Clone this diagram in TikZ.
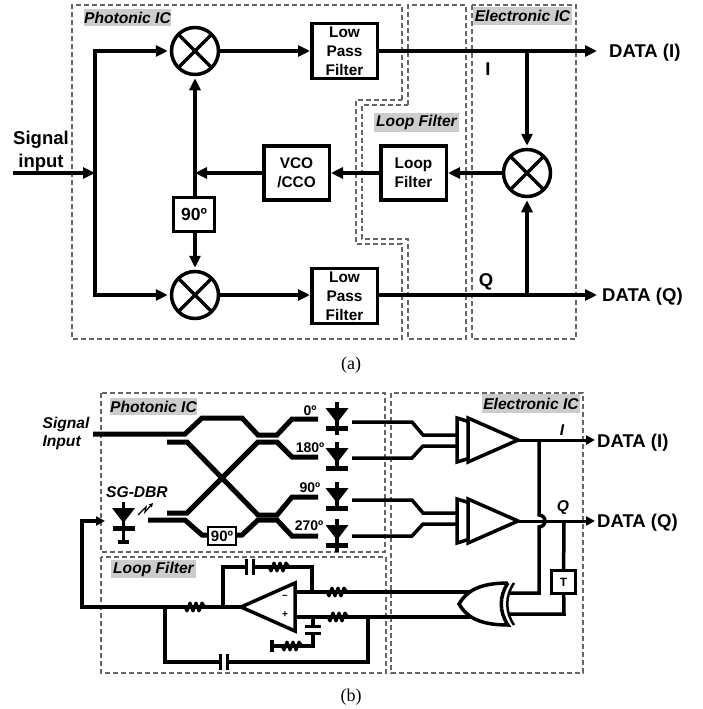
\documentclass[tikz,border=0pt]{standalone}
\usepackage{fontspec}
\setmainfont{Liberation Sans}
\newfontfamily\capfont{Liberation Serif}
\usetikzlibrary{arrows.meta}

\tikzset{
  region/.style={draw=black!60, line width=1.1pt, dash pattern=on 5pt off 3pt},
  regionlabel/.style={fill=black!20, inner sep=0pt, font=\fontsize{15.6}{18}\selectfont\bfseries\itshape},
  plainlabel/.style={inner sep=0pt, font=\fontsize{15.6}{18}\selectfont\bfseries\itshape},
  biglabel/.style={inner sep=0pt, font=\fontsize{18.5}{23}\selectfont\bfseries},
  anglelabel/.style={inner sep=0pt, font=\fontsize{14}{16}\selectfont\bfseries},
  wire/.style={line width=3.5pt},
  sigline/.style={wire, -{Triangle[length=12pt,width=11pt]}},
  smallsig/.style={wire, -{Triangle[length=9pt,width=9pt]}},
  guide/.style={line width=5pt},
  blockbox/.style={draw, line width=3.5pt, fill=white, inner sep=0pt, align=center,
    font=\fontsize{15.4}{19}\selectfont\bfseries},
  mixer/.style={draw, circle, line width=3.5pt, fill=white, minimum size=47pt, inner sep=0pt,
    path picture={
      \draw[line width=3.5pt] (path picture bounding box.north west) -- (path picture bounding box.south east);
      \draw[line width=3.5pt] (path picture bounding box.north east) -- (path picture bounding box.south west);
    }},
  resbit/.pic={
    \draw[line width=3pt, line join=round] (-10,0) -- (-8,4) -- (-5,-4) -- (-2,4) -- (1,-4) -- (4,4) -- (7,-4) -- (10,0);
  },
  capbit/.pic={
    \fill[white] (-3,-5) rectangle (3,5);
    \draw[line width=3pt] (-3.5,-8) -- (-3.5,8);
    \draw[line width=3pt] (3.5,-8) -- (3.5,8);
  },
  diodebit/.pic={
    \fill (-11.5,0) -- (11.5,0) -- (0,15) -- cycle;
    \fill (-11,18) rectangle (11,23);
  },
}

\begin{document}
\begin{tikzpicture}[x=1pt, y=-1pt]
  \useasboundingbox (0,0) rectangle (702,709);

  % regions top
  \draw[region] (402,100) -- (402,5) -- (72,5) -- (72,339) -- (402,339) -- (402,244) -- (356,244) -- (356,100) -- cycle;
  \draw[region] (408,105) -- (408,5) -- (466,5) -- (466,339) -- (408,339) -- (408,239) -- (362,239) -- (362,105) -- cycle;
  \draw[region] (472,5) rectangle (576,339);
  \node[regionlabel, minimum width=87pt, minimum height=17pt] (photoniclabel) at (127.5,17.5) {Photonic IC};
  \node[regionlabel, minimum width=85pt, minimum height=19pt] (looplabel) at (416.5,122.5) {Loop Filter};
  \node[regionlabel, minimum width=99pt, minimum height=18pt] (electroniclabel) at (522.5,16) {Electronic IC};

  % blocks top
  \node[mixer] (mixtop) at (195,51) {};
  \node[mixer] (mixbottom) at (195,295) {};
  \node[mixer] (mixright) at (527,173) {};
  \node[blockbox, minimum width=65.5pt, minimum height=55pt] (lpftop) at (344.5,51) {Low\\Pass\\Filter};
  \node[blockbox, minimum width=65.5pt, minimum height=55pt] (lpfbottom) at (344.5,296) {Low\\Pass\\Filter};
  \node[blockbox, minimum width=65.5pt, minimum height=54pt] (vco) at (296.5,173) {VCO\\/CCO};
  \node[blockbox, minimum width=65.5pt, minimum height=54pt] (loopbox) at (413.5,173) {Loop\\Filter};
  \node[blockbox, minimum width=41pt, minimum height=34pt, font=\fontsize{17.5}{20}\selectfont\bfseries] (shift) at (194,214.5) {90º};

  % labels top
  \node[biglabel, align=center] (siglabel) at (41,151) {Signal\\input};
  \node[biglabel, anchor=west] (dataitop) at (609,53) {DATA (I)};
  \node[biglabel, anchor=west] (dataqtop) at (602,297) {DATA (Q)};
  \node[biglabel] (ilabel) at (488,69) {I};
  \node[biglabel] (qlabel) at (486,282) {Q};
  \node[inner sep=0pt, font=\fontsize{18}{20}\selectfont\capfont] (captiona) at (351,365) {(a)};
  \node[inner sep=0pt, font=\fontsize{18}{20}\selectfont\capfont] (captionb) at (351,697) {(b)};

  % connectors top
  \coordinate (sigstart) at (13,173);
  \coordinate (sigsplit) at (95,173);
  \coordinate (vcosplit) at (195,173);
  \coordinate (isplit) at (527,51);
  \coordinate (qsplit) at (527,295);
  \draw[sigline] (sigstart) -- (sigsplit);
  \draw[sigline, shorten >=2pt] (sigsplit) |- (mixtop);
  \draw[sigline, shorten >=2pt] (sigsplit) |- (mixbottom);
  \draw[sigline] (mixtop) -- (lpftop);
  \draw[sigline] (mixbottom) -- (mixbottom -| lpfbottom.west);
  \draw[sigline] (loopbox) -- (vco);
  \draw[sigline] (mixright) -- (loopbox);
  \draw[sigline] (vco) -- (vcosplit);
  \draw[sigline, shorten >=2pt] (shift.north -| mixtop) -- (mixtop);
  \draw[sigline, shorten >=2pt] (shift.south -| mixbottom) -- (mixbottom);
  \draw[sigline, shorten >=12pt] (lpftop) -- (lpftop -| dataitop.west);
  \draw[sigline, shorten >=5pt] (lpfbottom.east |- qsplit) -- (qsplit -| dataqtop.west);
  \draw[sigline, shorten >=2pt] (isplit) -- (mixright);
  \draw[sigline, shorten >=2pt] (qsplit) -- (mixright);

  % regions bottom
  \draw[region] (101,393) rectangle (385,552);
  \draw[region] (101,557) rectangle (386,673);
  \draw[region] (391,393) rectangle (583,673);
  \node[regionlabel, minimum width=87pt, minimum height=17pt] (photonicb) at (153.5,406.5) {Photonic IC};
  \node[regionlabel, minimum width=85pt, minimum height=18pt] (loopb) at (153.5,569) {Loop Filter};
  \node[regionlabel, minimum width=98pt, minimum height=19pt] (electronicb) at (531,403.5) {Electronic IC};

  % waveguides
  \draw[guide] (93,434) -- (185,434) -- (202,418) -- (242,418) -- (258,435) -- (277,435) -- (292,419) -- (318,419);
  \draw[guide] (167,442) -- (187,442) -- (258,515) -- (277,515) -- (292,497) -- (318,497);
  \draw[guide] (167,513) -- (187,513) -- (258,442) -- (277,442) -- (292,457) -- (318,457);
  \draw[guide] (148,520) -- (185,520) -- (202,535) -- (242,535) -- (258,520) -- (277,520) -- (292,536) -- (318,536);
  \node[draw, line width=2.5pt, fill=white, inner sep=0pt, minimum width=28pt, minimum height=18pt,
    font=\fontsize{15}{17}\selectfont\bfseries] (shiftb) at (222,536) {90º};

  % angle labels
  \node[anglelabel] (angzero) at (310,411) {0º};
  \node[anglelabel] (angoneeighty) at (310,448) {180º};
  \node[anglelabel] (angninety) at (310,488) {90º};
  \node[anglelabel] (angtwoseventy) at (309,526) {270º};
  \node[plainlabel, align=left] (signalb) at (66,433.5) {Signal\\Input};
  \node[plainlabel] (sgdbr) at (137,492) {SG-DBR};

  % photodiodes
  \foreach \ypos/\yend in {408/435, 448/470, 488/510, 525/552} {
    \draw[wire] (337,\ypos-6) -- (337,\yend);
    \pic at (337,\ypos) {diodebit};
  }

  % laser
  \draw[wire] (123.5,502) -- (123.5,542);
  \pic at (123.5,508) {diodebit};
  \draw[wire] (118,542) -- (129,542);
  \draw[line width=1.2pt, -{Triangle[length=4pt,width=4pt]}] (138,515) -- (146,507) -- (145,512) -- (153,503);

  % lines to the amplifiers
  \draw[wire] (352,422) -- (412,422) -- (423,435) -- (460,435);
  \draw[wire] (352,458) -- (412,458) -- (423,446) -- (460,446);
  \draw[wire] (352,500) -- (412,500) -- (423,513) -- (460,513);
  \draw[wire] (352,536) -- (412,536) -- (423,524) -- (460,524);

  % amplifiers
  \foreach \ymid in {440,521} {
    \draw[wire, fill=white] (457,\ymid-22) -- (470,\ymid-18) -- (470,\ymid+18) -- (457,\ymid+22) -- cycle;
    \draw[wire, fill=white] (468,\ymid-22) -- (518,\ymid) -- (468,\ymid+22) -- cycle;
  }
  \coordinate (amplifieri) at (518,440);
  \coordinate (amplifierq) at (518,521);

  % output labels
  \node[biglabel, anchor=west] (dataib) at (597,443) {DATA (I)};
  \node[biglabel, anchor=west] (dataqb) at (597,523) {DATA (Q)};
  \node[plainlabel] (ilabelb) at (562,430) {I};
  \node[plainlabel] (qlabelb) at (563,508) {Q};

  % delay box
  \node[draw, line width=3.2pt, fill=white, inner sep=0pt, minimum width=24pt, minimum height=23pt,
    font=\fontsize{12}{14}\selectfont\bfseries] (delay) at (563.5,582) {T};

  % op amp wires
  \draw[wire] (295,592) -- (470,592);
  \draw[wire] (295,617) -- (470,617);
  \draw[wire] (223,607) -- (223,567) -- (312,567) -- (312,592);
  \draw[wire] (165,607) -- (165,662) -- (368,662) -- (368,617);
  \draw[wire] (313,617) -- (313,646) -- (272,646);
  \draw[wire] (272,640) -- (272,652);
  \coordinate (laserin) at (105,521);
  \draw[smallsig] (241,607) -- (82,607) -- (82,521) -- (laserin);

  % outputs and xor inputs
  \draw[smallsig, line width=3pt, shorten >=2pt] (amplifieri) -- (amplifieri -| dataib.west);
  \draw[smallsig, line width=3pt, shorten >=2pt] (amplifierq) -- (amplifierq -| dataqb.west);
  \draw[wire] (539,440) -- (539,515) arc[start angle=-90, end angle=90, radius=6pt, y radius=-6pt] -- (539,593) -- (509,593);
  \coordinate (delaytop) at (564,521);
  \draw[wire] (delaytop) -- (delay);
  \draw[wire] (delay) -- (564,614) -- (509,614);

  % xor gate
  \draw[wire, fill=white] (508,583) .. controls (478,583) and (466,592) .. (459,604)
    .. controls (466,616) and (478,625) .. (508,625)
    .. controls (499,612) and (499,596) .. (508,583);
  \draw[line width=2.5pt, fill=none] (514,583) .. controls (505,596) and (505,612) .. (514,625);

  % op amp
  \draw[wire, fill=white] (295,583) -- (241,607) -- (295,631) -- cycle;
  \node[inner sep=0pt, font=\fontsize{10}{12}\selectfont\bfseries] (minus) at (285,597) {--};
  \node[inner sep=0pt, font=\fontsize{10}{12}\selectfont\bfseries] (plus) at (285,615) {+};

  % resistors and capacitors
  \pic at (337,592) {resbit};
  \pic at (338,617) {resbit};
  \pic at (279,567) {resbit};
  \pic at (195,607) {resbit};
  \pic at (292,646) {resbit};
  \pic at (250,567) {capbit};
  \pic at (224,662) {capbit};
  \pic[rotate=90] at (313,630) {capbit};
\end{tikzpicture}
\end{document}
